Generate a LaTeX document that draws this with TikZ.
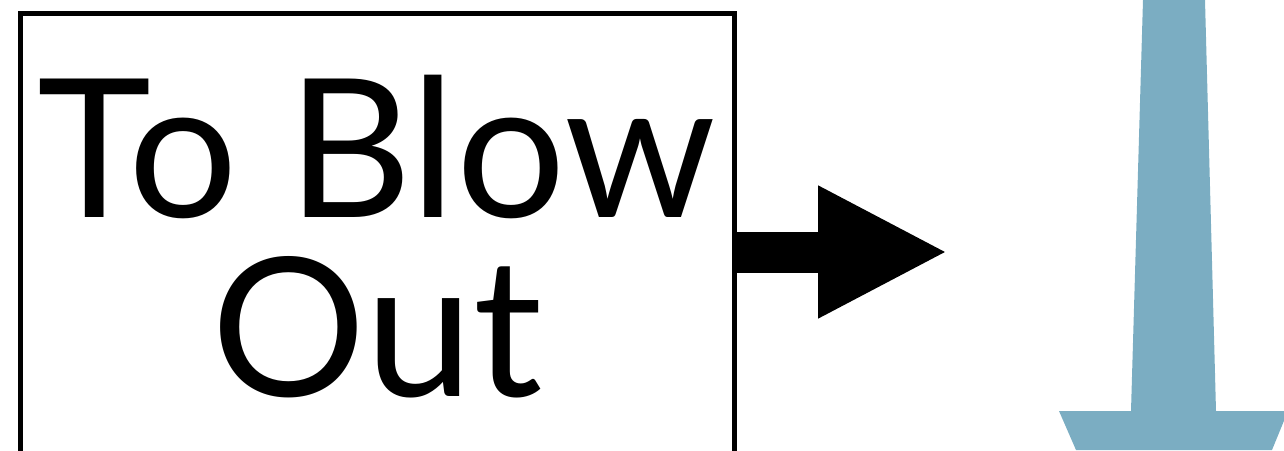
\documentclass[tikz,border=0pt]{standalone}
\usepackage{fontspec}
\setmainfont{Lato}
\usetikzlibrary{positioning,arrows.meta}
\definecolor{towerblue}{RGB}{123,173,194}
\tikzset{
  blowbox/.style={draw=black,line width=0.05cm,minimum width=7.13cm,minimum height=4.76cm,inner sep=0pt},
  blowtext/.style={font=\fontsize{55}{51}\selectfont,align=center,inner sep=0pt},
  blowarrow/.style={line width=0.41cm,-{Triangle[length=1.3cm,width=1.23cm]}}
}
\begin{document}
\begin{tikzpicture}
    \useasboundingbox (0,0) rectangle (12.84,4.5);
    \clip (0,0) rectangle (12.84,4.5);
    % tower
    \fill[towerblue] (11.43,4.5)--(12.05,4.5)--(12.16,0.39)--(12.88,0.39)--(12.72,0)--(10.76,0)--(10.59,0.39)--(11.31,0.39)--cycle;
    \node[blowbox] (box) at (3.775,1.98) {};
    \node[blowtext] (label) at (3.77,2.135) {To Blow\\Out};
    \coordinate (tip) at (9.48,1.98);
    \draw[blowarrow] (box.east)--(tip);
  \end{tikzpicture}
\end{document}
